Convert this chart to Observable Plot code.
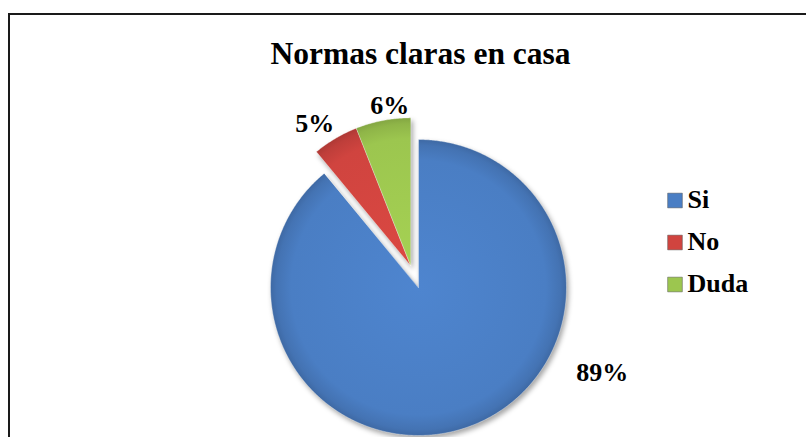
<!DOCTYPE html>
<html><head><meta charset="utf-8">
<script src="https://cdn.jsdelivr.net/npm/d3@7"></script>
<script src="https://cdn.jsdelivr.net/npm/@observablehq/plot@0.6"></script>
<style>
html,body{margin:0;padding:0;background:#fff;}
#wrap{position:relative;width:806px;height:437px;overflow:hidden;}
#frame{position:absolute;left:8px;top:13px;width:820px;height:440px;border-left:2px solid #1a1a1a;border-top:2px solid #1a1a1a;box-sizing:border-box}
#chart{position:absolute;left:0;top:0}
#chart svg text{font-family:"Liberation Serif","Times New Roman",serif !important;}
</style></head><body>
<div id="wrap"><div id="frame"></div><div id="chart"></div></div>
<script>
// ---- data ----
const title = "Normas claras en casa";
const categories = ["Si", "No", "Duda"];
const values = [89, 5, 6];
const valueLabels = ["89%", "5%", "6%"];
const exploded = [false, true, true];
const colors = ["#4a7ec4", "#d0443f", "#9cc64f"];

// ---- layout (pixels) ----
const W = 806, H = 437, cx = 418, cy = 287, R = 148, explodeDist = 23;
const labelSpec = [ {deg: 114.8, r: 1.368}, {deg: 326, r: 1.16}, {deg: 352.5, r: 1.09} ];
const legendX = 674.5, legendY0 = 200, legendStep = 42;

const arcs = d3.pie().sort(null).value(d => d)(values);
const ex = arcs.filter((a, i) => exploded[i]);
const exMid = (d3.min(ex, a => a.startAngle) + d3.max(ex, a => a.endAngle)) / 2;
const off = {x: explodeDist * Math.sin(exMid), y: -explodeDist * Math.cos(exMid)};

const points = [];
arcs.forEach((a, i) => {
  const ox = exploded[i] ? off.x : 0, oy = exploded[i] ? off.y : 0;
  const c = categories[i];
  points.push({cat: c, x: cx + ox, y: cy + oy});
  const n = Math.max(8, Math.ceil((a.endAngle - a.startAngle) / (Math.PI / 360)));
  for (let k = 0; k <= n; k++) {
    const t = a.startAngle + (a.endAngle - a.startAngle) * k / n;
    points.push({cat: c, x: cx + ox + R * Math.sin(t), y: cy + oy - R * Math.cos(t)});
  }
});

const labels = arcs.map((a, i) => {
  const ox = exploded[i] ? off.x : 0, oy = exploded[i] ? off.y : 0;
  const t = labelSpec[i].deg * Math.PI / 180, r = labelSpec[i].r * R;
  return {text: valueLabels[i], x: cx + ox + r * Math.sin(t), y: cy + oy - r * Math.cos(t)};
});

const legend = categories.map((c, i) => ({cat: c, x: legendX, y: legendY0 + i * legendStep}));

const font = "Liberation Serif, Times New Roman, serif";
const chart = Plot.plot({
  width: W, height: H, margin: 0,
  x: {domain: [0, W], range: [0, W], axis: null},
  y: {domain: [0, H], range: [0, H], axis: null},
  color: {domain: categories, range: colors},
  style: {fontFamily: font, background: "transparent", overflow: "visible"},
  marks: [
    Plot.line(points, {x: "x", y: "y", z: "cat", fill: "cat", stroke: "#ffffff", strokeWidth: 0.6, strokeOpacity: 0.6, curve: "linear-closed"}),
    Plot.text(labels, {x: "x", y: "y", text: "text", fontFamily: font, fontSize: 26, fontWeight: "bold", fill: "#000", textAnchor: "middle", lineAnchor: "middle"}),
    Plot.text([title], {frameAnchor: "top", dx: 17, dy: 53, fontFamily: font, fontSize: 31.5, fontWeight: "bold", fill: "#000", lineAnchor: "middle"}),
    Plot.dot(legend, {x: "x", y: "y", fill: "cat", symbol: "square", r: 8.3, stroke: "#555", strokeWidth: 0.5}),
    Plot.text(legend, {x: "x", y: "y", text: "cat", dx: 12.5, dy: -1, textAnchor: "start", lineAnchor: "middle", fontFamily: font, fontSize: 26, fontWeight: "bold", fill: "#000"})
  ]
});

// subtle rim shading to imitate the bevelled 3D look
const ns = "http://www.w3.org/2000/svg";
const defs = document.createElementNS(ns, "defs");
colors.forEach((col, i) => {
  const ox = exploded[i] ? off.x : 0, oy = exploded[i] ? off.y : 0;
  const g = document.createElementNS(ns, "radialGradient");
  g.setAttribute("id", "pie-grad-" + i);
  g.setAttribute("gradientUnits", "userSpaceOnUse");
  g.setAttribute("cx", cx + ox); g.setAttribute("cy", cy + oy); g.setAttribute("r", R);
  const base = d3.color(col);
  [[0, base.brighter(0.15)], [0.86, base], [0.96, base.darker(0.25)], [1, base.darker(0.5)]].forEach(([o, c]) => {
    const s = document.createElementNS(ns, "stop");
    s.setAttribute("offset", o); s.setAttribute("stop-color", c.formatHex());
    g.appendChild(s);
  });
  defs.appendChild(g);
});
chart.insertBefore(defs, chart.firstChild);
const lineG = chart.querySelector('g[aria-label="line"]');
if (lineG) {
  lineG.style.filter = "drop-shadow(2px 3px 2.5px rgba(0,0,0,0.35))";
  lineG.querySelectorAll("path").forEach(p => {
    const i = colors.indexOf(d3.color(p.getAttribute("fill")).formatHex());
    if (i >= 0) p.setAttribute("fill", `url(#pie-grad-${i})`);
  });
}
document.getElementById("chart").appendChild(chart);
</script>
</body></html>
